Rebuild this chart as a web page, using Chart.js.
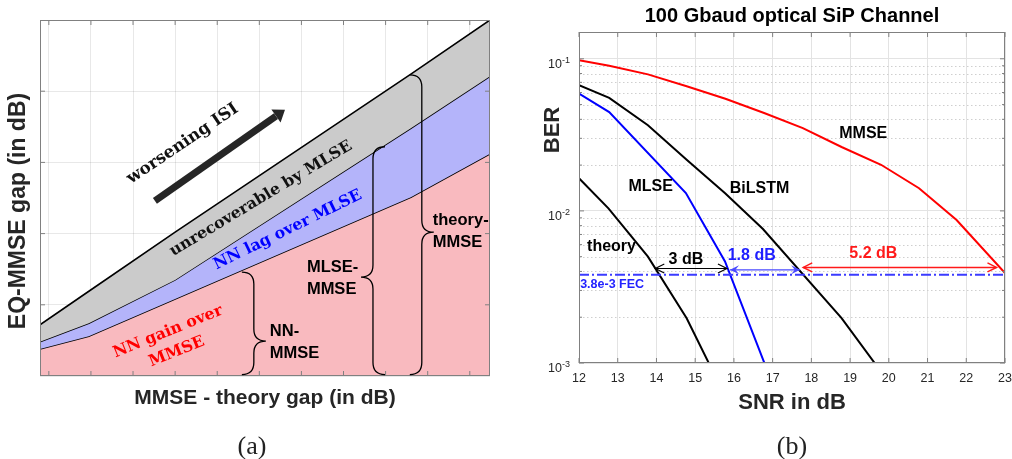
<!DOCTYPE html>
<html>
<head>
<meta charset="utf-8">
<script src="https://cdn.jsdelivr.net/npm/chart.js@4.4.1/dist/chart.umd.min.js"></script>
<style>
  html, body { margin: 0; padding: 0; background: #fff; overflow: hidden; width: 1012px; height: 459px; }
  #wrapA { position: absolute; left: 0; top: 0; width: 510px; height: 459px; }
  #wrapB { position: absolute; left: 510px; top: 0; width: 564px; height: 459px; }
  .cap { position: absolute; top: 431px; width: 80px; line-height: 30px; text-align: center;
         font-family: "Liberation Serif", serif; font-size: 26px; color: #222; }
</style>
</head>
<body>
<div id="wrapA"><canvas id="chartA"></canvas></div>
<div id="wrapB"><canvas id="chartB"></canvas></div>
<div class="cap" style="left:212px">(a)</div>
<div class="cap" style="left:752px">(b)</div>

<script>
const SANS = '"Liberation Sans", Arial, sans-serif';
const SERIF = '"DejaVu Serif", "Liberation Serif", serif';

// ---------- (a) gap regions ----------
const gapX = [-0.21, 0.95, 3, 8.6, 10.48];
const theoryMmse = [0.72, 1.19, 2.02, 4.24, 5.0];
const mlseMmse = [0.48, 0.74, 1.35, 3.48, 4.21];
const nnMmse = [0.38, 0.56, 1.08, 2.51, 3.12];
const gapTicksX = [0, 1, 2, 3, 4, 5, 6, 7, 8, 9, 10];
const gapTicksY = [0, 1, 2, 3, 4, 5];

// ---------- (b) BER curves ----------
const snrMmse = [12, 12.78, 13.78, 14.78, 15.78, 16.78, 17.78, 18.78, 19.8, 20.78, 21.75, 23];
const berMmse = [0.098, 0.090, 0.079, 0.066, 0.0546, 0.044, 0.035, 0.0263, 0.0201, 0.0141, 0.0087, 0.0039];
const snrBilstm = [12, 12.78, 13.78, 14.78, 15.78, 16.75, 18.78, 19.78];
const berBilstm = [0.0671, 0.0553, 0.0366, 0.0217, 0.013, 0.0076, 0.00197, 0.00089];
const snrMlse = [12, 12.78, 14.76, 15.77, 16.8];
const berMlse = [0.0591, 0.0446, 0.0131, 0.00465, 0.00098];
const snrTheory = [12, 12.76, 13.78, 14.78, 15.78];
const berTheory = [0.0164, 0.0104, 0.0050, 0.00197, 0.0006];
const fecLimit = 0.0038;
const snrTicks = [12, 13, 14, 15, 16, 17, 18, 19, 20, 21, 22, 23];
const berTicks = [0.001, 0.002, 0.003, 0.004, 0.005, 0.006, 0.007, 0.008, 0.009,
                  0.01, 0.02, 0.03, 0.04, 0.05, 0.06, 0.07, 0.08, 0.09, 0.1];

const pts = (xs, ys) => xs.map((x, i) => ({ x: x, y: ys[i] }));
const isDecade = v => Math.abs(Math.log10(v) - Math.round(Math.log10(v))) < 1e-6;

// MATLAB style box with inward ticks
function drawBox(ctx, ca, xPix, yPix, minorY) {
  ctx.save();
  ctx.strokeStyle = '#808080';
  ctx.lineWidth = 1;
  ctx.strokeRect(ca.left + 0.5, ca.top + 0.5, ca.right - ca.left - 1, ca.bottom - ca.top - 1);
  ctx.beginPath();
  xPix.forEach(px => {
    ctx.moveTo(px, ca.top); ctx.lineTo(px, ca.top + 5);
    ctx.moveTo(px, ca.bottom); ctx.lineTo(px, ca.bottom - 5);
  });
  yPix.forEach(p => {
    const len = minorY && !p.major ? 3 : 5;
    ctx.moveTo(ca.left, p.y); ctx.lineTo(ca.left + len, p.y);
    ctx.moveTo(ca.right, p.y); ctx.lineTo(ca.right - len, p.y);
  });
  ctx.stroke();
  ctx.restore();
}

function rotatedText(ctx, text, x, y, deg, font, color) {
  ctx.save();
  ctx.translate(x, y);
  ctx.rotate(deg * Math.PI / 180);
  ctx.font = font;
  ctx.fillStyle = color;
  ctx.textAlign = 'center';
  ctx.textBaseline = 'middle';
  ctx.fillText(text, 0, 0);
  ctx.restore();
}

function brace(ctx, x, yTop, yBot, yTip, dir, w) {
  ctx.beginPath();
  ctx.moveTo(x - dir * w, yTop);
  ctx.quadraticCurveTo(x, yTop, x, yTop + w);
  ctx.lineTo(x, yTip - w);
  ctx.quadraticCurveTo(x, yTip, x + dir * w, yTip);
  ctx.quadraticCurveTo(x, yTip, x, yTip + w);
  ctx.lineTo(x, yBot - w);
  ctx.quadraticCurveTo(x, yBot, x - dir * w, yBot);
  ctx.stroke();
}

// annotations for panel (a), in data units
const bracesA = [
  { x: 4.87, top: 1.46, bottom: 0.02, tip: 0.49, dir: 1 },
  { x: 7.70, top: 3.22, bottom: 0.02, tip: 1.39, dir: -1 },
  { x: 8.86, top: 4.23, bottom: 0.02, tip: 2.02, dir: 1 }
];
const notesA = [
  { lines: ['NN-', 'MMSE'], x: 5.25, y: 0.62 },
  { lines: ['MLSE-', 'MMSE'], x: 6.13, y: 1.52 },
  { lines: ['theory-', 'MMSE'], x: 9.12, y: 2.19 }
];
const slantedA = [
  { text: 'worsening ISI', x: 3.18, y: 3.26, deg: -34, size: 16.8, color: '#111' },
  { text: 'unrecoverable by MLSE', x: 5.04, y: 2.49, deg: -31, size: 15.8, color: '#111' },
  { text: 'NN lag over MLSE', x: 5.68, y: 2.05, deg: -26, size: 15.8, color: '#0000ff' },
  { text: 'NN gain over', x: 2.83, y: 0.62, deg: -22, size: 15.8, color: '#ff0000' },
  { text: 'MMSE', x: 3.04, y: 0.34, deg: -22, size: 15.8, color: '#ff0000' }
];
const isiArrow = { x0: 2.52, y0: 2.46, x1: 5.61, y1: 3.74 };

const panelA = {
  id: 'panelA',
  afterDraw(chart) {
    const { ctx, chartArea: ca, scales: { x, y } } = chart;
    drawBox(ctx, ca, gapTicksX.map(v => x.getPixelForValue(v)),
      gapTicksY.slice(1, -1).map(v => ({ y: y.getPixelForValue(v), major: true })), false);

    // axis title on the left
    rotatedText(ctx, 'EQ-MMSE gap (in dB)', 19, 211, -90, 'bold 23px ' + SANS, '#262626');

    // thick arrow
    ctx.save();
    const ax0 = x.getPixelForValue(isiArrow.x0), ay0 = y.getPixelForValue(isiArrow.y0);
    const ax1 = x.getPixelForValue(isiArrow.x1), ay1 = y.getPixelForValue(isiArrow.y1);
    const ang = Math.atan2(ay1 - ay0, ax1 - ax0);
    const hl = 11, hw = 8;
    const bx = ax1 - hl * Math.cos(ang), by = ay1 - hl * Math.sin(ang);
    ctx.strokeStyle = '#262626';
    ctx.fillStyle = '#262626';
    ctx.lineWidth = 7;
    ctx.beginPath(); ctx.moveTo(ax0, ay0); ctx.lineTo(bx, by); ctx.stroke();
    ctx.beginPath();
    ctx.moveTo(ax1, ay1);
    ctx.lineTo(bx + hw * Math.sin(ang), by - hw * Math.cos(ang));
    ctx.lineTo(bx - hw * Math.sin(ang), by + hw * Math.cos(ang));
    ctx.closePath(); ctx.fill();
    ctx.restore();

    slantedA.forEach(t => rotatedText(ctx, t.text, x.getPixelForValue(t.x), y.getPixelForValue(t.y),
      t.deg, 'bold ' + t.size + 'px ' + SERIF, t.color));

    ctx.save();
    ctx.strokeStyle = '#000';
    ctx.lineWidth = 1.3;
    bracesA.forEach(b => brace(ctx, x.getPixelForValue(b.x), y.getPixelForValue(b.top),
      y.getPixelForValue(b.bottom), y.getPixelForValue(b.tip), b.dir, 12));
    ctx.font = 'bold 16.5px ' + SANS;
    ctx.fillStyle = '#000';
    ctx.textAlign = 'left';
    ctx.textBaseline = 'middle';
    notesA.forEach(n => {
      const px = x.getPixelForValue(n.x), py = y.getPixelForValue(n.y);
      n.lines.forEach((s, i) => ctx.fillText(s, px, py + i * 22));
    });
    ctx.restore();
  }
};

new Chart(document.getElementById('chartA'), {
  type: 'line',
  data: {
    datasets: [
      { label: 'theory-MMSE', data: pts(gapX, theoryMmse), borderColor: '#000', borderWidth: 1.6,
        backgroundColor: '#cbcbcb', fill: '+1', pointRadius: 0 },
      { label: 'MLSE-MMSE', data: pts(gapX, mlseMmse), borderColor: '#000', borderWidth: 1.6,
        backgroundColor: '#b4b4fa', fill: '+1', pointRadius: 0 },
      { label: 'NN-MMSE', data: pts(gapX, nnMmse), borderColor: '#000', borderWidth: 1.6,
        backgroundColor: '#f9babf', fill: 'origin', pointRadius: 0 }
    ]
  },
  options: {
    responsive: true, maintainAspectRatio: false, animation: false,
    layout: { padding: { left: 0, top: 20, right: 20, bottom: 43 } },
    plugins: { legend: { display: false }, tooltip: { enabled: false } },
    scales: {
      x: {
        type: 'linear', min: -0.21, max: 10.48, z: 1,
        afterBuildTicks: s => { s.ticks = gapTicksX.map(v => ({ value: v })); },
        afterFit: s => { s.height = 40; },
        ticks: { display: false },
        grid: { color: 'rgba(0,0,0,0.09)', drawTicks: false },
        border: { display: false },
        title: { display: true, text: 'MMSE - theory gap (in dB)', color: '#262626',
                 font: { family: SANS, size: 21, weight: 'bold' }, padding: { top: 0, bottom: 5 } }
      },
      y: {
        type: 'linear', min: 0, max: 5, z: 1,
        afterBuildTicks: s => { s.ticks = gapTicksY.map(v => ({ value: v })); },
        afterFit: s => { s.width = 40; },
        ticks: { display: false },
        grid: { color: 'rgba(0,0,0,0.09)', drawTicks: false },
        border: { display: false }
      }
    }
  },
  plugins: [panelA]
});

// ---------- panel (b) annotations ----------
const curveLabels = [
  { text: 'MMSE', x: 19.34, y: 0.0321, color: '#000' },
  { text: 'BiLSTM', x: 16.66, y: 0.0141, color: '#000' },
  { text: 'MLSE', x: 13.85, y: 0.0145, color: '#000' },
  { text: 'theory', x: 12.84, y: 0.00582, color: '#000' },
  { text: '3 dB', x: 14.76, y: 0.0048, color: '#000' },
  { text: '1.8 dB', x: 16.46, y: 0.00506, color: '#1f1fff' },
  { text: '5.2 dB', x: 19.6, y: 0.0052, color: '#ff1a1a' }
];
const gapArrows = [
  { x0: 13.97, x1: 15.82, y: 0.00418, color: '#000', width: 1.2, filled: false },
  { x0: 15.9, x1: 17.71, y: 0.0041, color: '#4a4aff', width: 1.2, filled: true },
  { x0: 17.79, x1: 22.78, y: 0.00425, color: '#ff1a1a', width: 1.5, filled: false }
];

function arrowHead(ctx, x, y, dir, filled) {
  const len = 9, half = 4.5;
  ctx.beginPath();
  if (filled) {
    ctx.moveTo(x, y);
    ctx.lineTo(x - dir * len, y - half);
    ctx.lineTo(x - dir * len * 0.6, y);
    ctx.lineTo(x - dir * len, y + half);
    ctx.closePath();
    ctx.fill();
  } else {
    ctx.moveTo(x - dir * len, y - half);
    ctx.lineTo(x, y);
    ctx.lineTo(x - dir * len, y + half);
    ctx.stroke();
  }
}

const panelB = {
  id: 'panelB',
  beforeDatasetsDraw(chart) {
    const { ctx, chartArea: ca, scales: { y } } = chart;
    ctx.save();
    ctx.strokeStyle = '#cfcfcf';
    ctx.lineWidth = 1;
    ctx.setLineDash([1.5, 2.5]);
    ctx.beginPath();
    berTicks.filter(v => !isDecade(v)).forEach(v => {
      const py = Math.round(y.getPixelForValue(v)) + 0.5;
      ctx.moveTo(ca.left, py); ctx.lineTo(ca.right, py);
    });
    ctx.stroke();
    ctx.restore();
  },
  afterDatasetsDraw(chart) {
    const { ctx, chartArea: ca, scales: { x, y } } = chart;
    drawBox(ctx, ca, snrTicks.map(v => x.getPixelForValue(v)),
      berTicks.map(v => ({ y: y.getPixelForValue(v), major: isDecade(v) })), true);
  },
  afterDraw(chart) {
    const { ctx, chartArea: ca, scales: { x, y } } = chart;
    ctx.save();
    // plot title, centred over the axes
    ctx.font = 'bold 20px ' + SANS;
    ctx.fillStyle = '#000';
    ctx.textAlign = 'center';
    ctx.textBaseline = 'middle';
    ctx.fillText('100 Gbaud optical SiP Channel', (ca.left + ca.right) / 2, 16);

    // decade labels 10^n
    ctx.fillStyle = '#262626';
    ctx.textAlign = 'right';
    ctx.textBaseline = 'alphabetic';
    berTicks.filter(isDecade).forEach(v => {
      const py = y.getPixelForValue(v);
      const sup = '-' + Math.round(-Math.log10(v));
      ctx.font = '9px ' + SANS;
      const sw = ctx.measureText(sup).width;
      ctx.fillText(sup, ca.left - 9, py + 4.2);
      ctx.font = '12.5px ' + SANS;
      ctx.fillText('10', ca.left - 9 - sw, py + 8.8);
    });
    ctx.restore();

    rotatedText(ctx, 'BER', 43, 130, -90, 'bold 22px ' + SANS, '#262626');

    ctx.save();
    gapArrows.forEach(a => {
      const x0 = x.getPixelForValue(a.x0), x1 = x.getPixelForValue(a.x1);
      const py = y.getPixelForValue(a.y);
      ctx.strokeStyle = a.color;
      ctx.fillStyle = a.color;
      ctx.lineWidth = a.width;
      ctx.beginPath(); ctx.moveTo(x0, py); ctx.lineTo(x1, py); ctx.stroke();
      arrowHead(ctx, x0, py, -1, a.filled);
      arrowHead(ctx, x1, py, 1, a.filled);
    });
    ctx.textAlign = 'center';
    ctx.textBaseline = 'middle';
    ctx.font = 'bold 16px ' + SANS;
    curveLabels.forEach(l => {
      ctx.fillStyle = l.color;
      ctx.fillText(l.text, x.getPixelForValue(l.x), y.getPixelForValue(l.y));
    });
    ctx.font = 'bold 12.5px ' + SANS;
    ctx.fillStyle = '#2323ff';
    ctx.textAlign = 'left';
    ctx.fillText('3.8e-3 FEC', x.getPixelForValue(12.03), y.getPixelForValue(0.0033));
    ctx.restore();
  }
};

const line = (label, xs, ys, color) => ({
  label: label, data: pts(xs, ys), borderColor: color, borderWidth: 2,
  pointRadius: 0, fill: false, tension: 0
});

new Chart(document.getElementById('chartB'), {
  type: 'line',
  data: {
    datasets: [
      Object.assign(line('3.8e-3 FEC', [12, 23], [fecLimit, fecLimit], '#3b3bff'), { borderDash: [10, 3, 2, 3] }),
      line('MMSE', snrMmse, berMmse, '#ff0000'),
      line('BiLSTM', snrBilstm, berBilstm, '#000000'),
      line('MLSE', snrMlse, berMlse, '#0000ff'),
      line('theory', snrTheory, berTheory, '#000000')
    ]
  },
  options: {
    responsive: true, maintainAspectRatio: false, animation: false,
    layout: { padding: { left: 0, top: 32, right: 69, bottom: 36 } },
    plugins: { legend: { display: false }, tooltip: { enabled: false } },
    scales: {
      x: {
        type: 'linear', min: 12, max: 23,
        afterBuildTicks: s => { s.ticks = snrTicks.map(v => ({ value: v })); },
        afterFit: s => { s.height = 60; },
        ticks: { color: '#262626', font: { family: SANS, size: 12.5 }, padding: 8.5 },
        grid: { color: '#e3e3e3', drawTicks: false },
        border: { display: false },
        title: { display: true, text: 'SNR in dB', color: '#262626',
                 font: { family: SANS, size: 22, weight: 'bold' }, padding: { top: 0, bottom: 7 } }
      },
      y: {
        type: 'logarithmic', min: 0.001, max: 0.15,
        afterBuildTicks: s => { s.ticks = berTicks.map(v => ({ value: v })); },
        afterFit: s => { s.width = 69; },
        ticks: { callback: () => '' },
        grid: { color: c => (c.tick && isDecade(c.tick.value)) ? '#e3e3e3' : 'rgba(0,0,0,0)', drawTicks: false },
        border: { display: false }
      }
    }
  },
  plugins: [panelB]
});
</script>
</body>
</html>
